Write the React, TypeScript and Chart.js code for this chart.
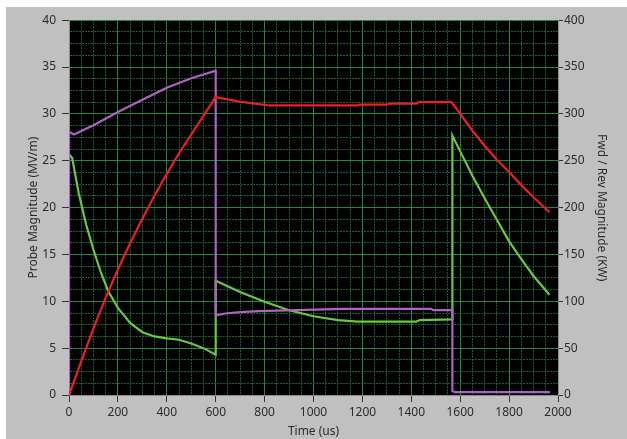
import React, { useEffect, useRef } from 'react';
import { Chart, registerables } from 'chart.js';

Chart.register(...registerables);

// Probe magnitude (MV/m) - left axis
const redX = [0, 50, 100, 150, 200, 250, 300, 350, 400, 450, 500, 550, 600, 620, 660, 700, 760, 820, 1180, 1190, 1300, 1310, 1420, 1430, 1565, 1600, 1650, 1700, 1750, 1800, 1850, 1900, 1965];
const redY = [0, 3.6, 7.1, 10.4, 13.4, 16.2, 18.8, 21.3, 23.6, 25.8, 27.8, 29.8, 31.8, 31.7, 31.5, 31.3, 31.1, 30.9, 30.9, 31.0, 31.0, 31.1, 31.1, 31.25, 31.25, 30.0, 28.2, 26.6, 25.1, 23.8, 22.4, 21.1, 19.5];

// Forward magnitude (kW) - right axis
const purpleX = [0, 0, 20, 100, 200, 300, 400, 500, 600, 600, 640, 700, 780, 930, 1120, 1480, 1490, 1568, 1568, 1580, 1967];
const purpleY = [0, 281, 278, 288, 302, 315, 328, 338, 346, 85, 87, 88.5, 89.5, 90.5, 92, 92, 90.5, 90.5, 4, 3, 3];

// Reverse magnitude (kW) - right axis
const greenX = [0, 0, 13, 40, 70, 100, 130, 160, 200, 250, 300, 350, 400, 450, 500, 550, 600, 600, 700, 800, 900, 1000, 1100, 1180, 1420, 1435, 1568, 1568, 1600, 1650, 1700, 1750, 1800, 1850, 1900, 1965];
const greenY = [0, 257, 253, 215, 182, 155, 131, 111, 93, 77, 67, 62.5, 60.5, 59, 55, 50, 43, 122, 110, 99.5, 90.5, 84, 80, 78.3, 78.3, 80, 80.7, 277, 260, 234, 210, 187, 164, 145, 127, 107];

const xMin = 0, xMax = 2000, xMinorStep = 50, xMajorStep = 200;
const yMin = 0, yMax = 40, yMinorStep = 1.25, yMajorStep = 5;
const y1Min = 0, y1Max = 400, y1Step = 50;

const xTitle = 'Time (us)';
const yTitle = 'Probe Magnitude (MV/m)';
const y1Title = 'Fwd / Rev Magnitude (KW)';

const FONT = "'Segoe UI', 'Noto Sans', 'DejaVu Sans', sans-serif";
const TEXT = '#2b2b2b';
const MAJOR = '#1f8a3e';
const MINOR = '#1a6230';

const pts = (xs: number[], ys: number[]) => xs.map((x, i) => ({ x, y: ys[i] }));

const isMajor = (v: number, step: number) => Math.abs(v / step - Math.round(v / step)) < 1e-6;

const bgPlugin = {
  id: 'plotBg',
  beforeDraw(chart: any) {
    const { ctx, chartArea } = chart;
    ctx.save();
    ctx.fillStyle = '#000';
    ctx.fillRect(chartArea.left, chartArea.top, chartArea.right - chartArea.left, chartArea.bottom - chartArea.top);
    ctx.restore();
  },
};

export default function App() {
  const ref = useRef<HTMLCanvasElement>(null);
  useEffect(() => {
    const chart = new Chart(ref.current as HTMLCanvasElement, {
      type: 'line',
      data: {
        datasets: [
          { data: pts(redX, redY), borderColor: '#f01e1e', borderWidth: 2.2, yAxisID: 'y', pointRadius: 0, tension: 0 },
          { data: pts(purpleX, purpleY), borderColor: '#b062c4', borderWidth: 2.2, yAxisID: 'y1', pointRadius: 0, tension: 0 },
          { data: pts(greenX, greenY), borderColor: '#6cc83c', borderWidth: 2.2, yAxisID: 'y1', pointRadius: 0, tension: 0 },
        ],
      },
      options: {
        responsive: false,
        animation: false,
        devicePixelRatio: 1,
        layout: { padding: { top: 8, left: 0, right: 0, bottom: 0 } },
        plugins: { legend: { display: false }, tooltip: { enabled: false } },
        scales: {
          x: {
            type: 'linear',
            min: xMin,
            max: xMax,
            afterBuildTicks: (s: any) => {
              const t = [];
              for (let v = xMin; v <= xMax; v += xMinorStep) t.push({ value: v });
              s.ticks = t;
            },
            afterFit: (s: any) => { s.height = 44; },
            ticks: {
              autoSkip: false,
              maxRotation: 0,
              padding: 3,
              color: TEXT,
              font: { family: FONT, size: 12 },
              callback: (v: any) => (isMajor(v, xMajorStep) ? String(v) : ''),
            },
            grid: {
              color: (c: any) => (c.tick && isMajor(c.tick.value, xMajorStep) ? MAJOR : MINOR),
              lineWidth: 1,
              tickLength: 7,
              tickColor: (c: any) => (c.tick && isMajor(c.tick.value, xMajorStep) ? '#333' : 'rgba(0,0,0,0)'),
            },
            border: {
              display: true,
              color: '#8a8a8a',
              dash: (c: any) => (c.tick && isMajor(c.tick.value, xMajorStep) ? [] : [2, 1]),
            },
            title: { display: true, text: xTitle, color: TEXT, font: { family: FONT, size: 12 }, padding: { top: 0, bottom: 0 } },
          },
          y: {
            type: 'linear',
            position: 'left',
            min: yMin,
            max: yMax,
            afterBuildTicks: (s: any) => {
              const t = [];
              for (let v = yMin; v <= yMax + 1e-9; v += yMinorStep) t.push({ value: v });
              s.ticks = t;
            },
            afterFit: (s: any) => { s.width = 63; },
            ticks: {
              autoSkip: false,
              padding: 6,
              color: TEXT,
              font: { family: FONT, size: 12 },
              callback: (v: any) => (isMajor(v, yMajorStep) ? String(v) : ''),
            },
            grid: {
              color: (c: any) => (c.tick && isMajor(c.tick.value, yMajorStep) ? MAJOR : MINOR),
              lineWidth: 1,
              tickLength: 7,
              tickColor: (c: any) => (c.tick && isMajor(c.tick.value, yMajorStep) ? '#333' : 'rgba(0,0,0,0)'),
            },
            border: {
              display: true,
              color: '#8a8a8a',
              dash: (c: any) => (c.tick && isMajor(c.tick.value, yMajorStep) ? [] : [2, 1]),
            },
            title: { display: true, text: yTitle, color: TEXT, font: { family: FONT, size: 12 }, padding: { top: 20, bottom: 0 } },
          },
          y1: {
            type: 'linear',
            position: 'right',
            min: y1Min,
            max: y1Max,
            afterFit: (s: any) => { s.width = 69; },
            ticks: {
              stepSize: y1Step,
              autoSkip: false,
              padding: 1,
              color: TEXT,
              font: { family: FONT, size: 12 },
            },
            grid: {
              drawOnChartArea: false,
              tickLength: 5,
              tickColor: '#333',
            },
            border: { display: true, color: '#8a8a8a' },
            title: { display: true, text: y1Title, color: TEXT, font: { family: FONT, size: 12 }, padding: { top: 18, bottom: 0 } },
          },
        },
      },
      plugins: [bgPlugin],
    } as any);
    return () => chart.destroy();
  }, []);

  return (
    <div style={{ position: 'fixed', left: 6, top: 7, width: 621, height: 432, background: '#c0c0c0' }}>
      <canvas ref={ref} width={621} height={432} style={{ display: 'block', width: 621, height: 432 }} />
    </div>
  );
}
